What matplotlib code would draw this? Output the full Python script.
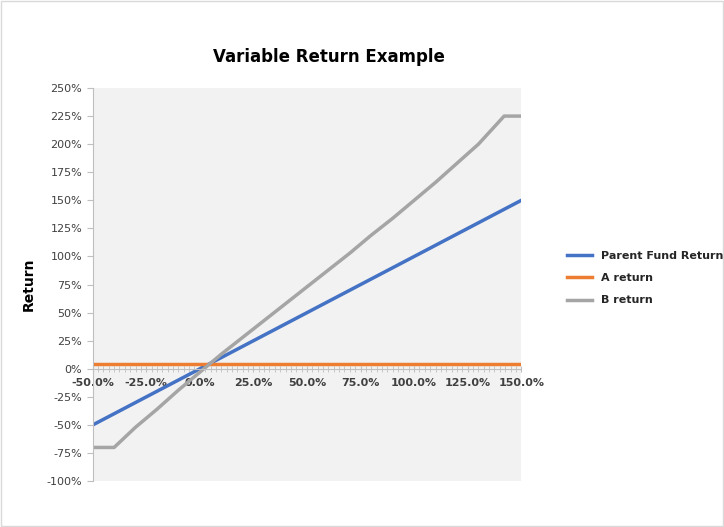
import matplotlib.pyplot as plt
from matplotlib.ticker import MultipleLocator, FuncFormatter

# data (percent)
x_vals = [-50, -40, -30, -20, -10, 0, 10, 20, 30, 40, 50, 60, 70, 80, 90, 100,
          110, 120, 130, 142, 150]
parent = [-50, -40, -30, -20, -10, 0, 10, 20, 30, 40, 50, 60, 70, 80, 90, 100,
          110, 120, 130, 142, 150]
a_ret = [4] * 21
b_ret = [-70, -70, -52, -36, -19, -3, 13, 28, 43, 58, 73, 88, 103, 119, 134, 150,
         166, 183, 200, 225, 225]

fig = plt.figure(figsize=(7.24, 5.27), dpi=100)
fig.patches.append(plt.Rectangle((0.001, 0.001), 0.997, 0.997, transform=fig.transFigure,
                                 fill=False, edgecolor="#d9d9d9", linewidth=1))
ax = fig.add_axes([0.128, 0.087, 0.592, 0.746])
ax.set_facecolor("#f2f2f2")

ax.plot(x_vals, parent, color="#4472c4", linewidth=2.5, label="Parent Fund Return")
ax.plot(x_vals, a_ret, color="#ed7d31", linewidth=2.5, label="A return")
ax.plot(x_vals, b_ret, color="#a5a5a5", linewidth=2.5, label="B return")

ax.set_xlim(-50, 150)
ax.set_ylim(-100, 250)
ax.yaxis.set_major_locator(MultipleLocator(25))
ax.xaxis.set_major_locator(MultipleLocator(25))
ax.xaxis.set_minor_locator(MultipleLocator(2.5))
ax.yaxis.set_major_formatter(FuncFormatter(lambda v, p: f"{v:.0f}%"))
ax.xaxis.set_major_formatter(FuncFormatter(lambda v, p: f"{v:.1f}%"))

for s in ["top", "right"]:
    ax.spines[s].set_visible(False)
ax.spines["left"].set_color("#bfbfbf")
ax.spines["bottom"].set_position(("data", 0))
ax.spines["bottom"].set_color("#bfbfbf")
ax.tick_params(axis="y", length=4, color="#bfbfbf", labelsize=8, labelcolor="#404040")
ax.tick_params(axis="x", which="both", direction="inout", length=5, color="#bfbfbf",
               labelsize=8, labelcolor="#404040", pad=4)
for lbl in ax.get_xticklabels():
    lbl.set_fontweight("bold")

ax.set_ylabel("Return", fontsize=10, fontweight="bold", labelpad=8)
fig.text(0.455, 0.882, "Variable Return Example", ha="center", fontsize=12, fontweight="bold")

leg = fig.legend(loc="center left", bbox_to_anchor=(0.77, 0.472), frameon=False, fontsize=8,
                 handlelength=2.2, labelspacing=1.1)
for t in leg.get_texts():
    t.set_fontweight("bold")
    t.set_color("#262626")

fig.savefig("out.png")
